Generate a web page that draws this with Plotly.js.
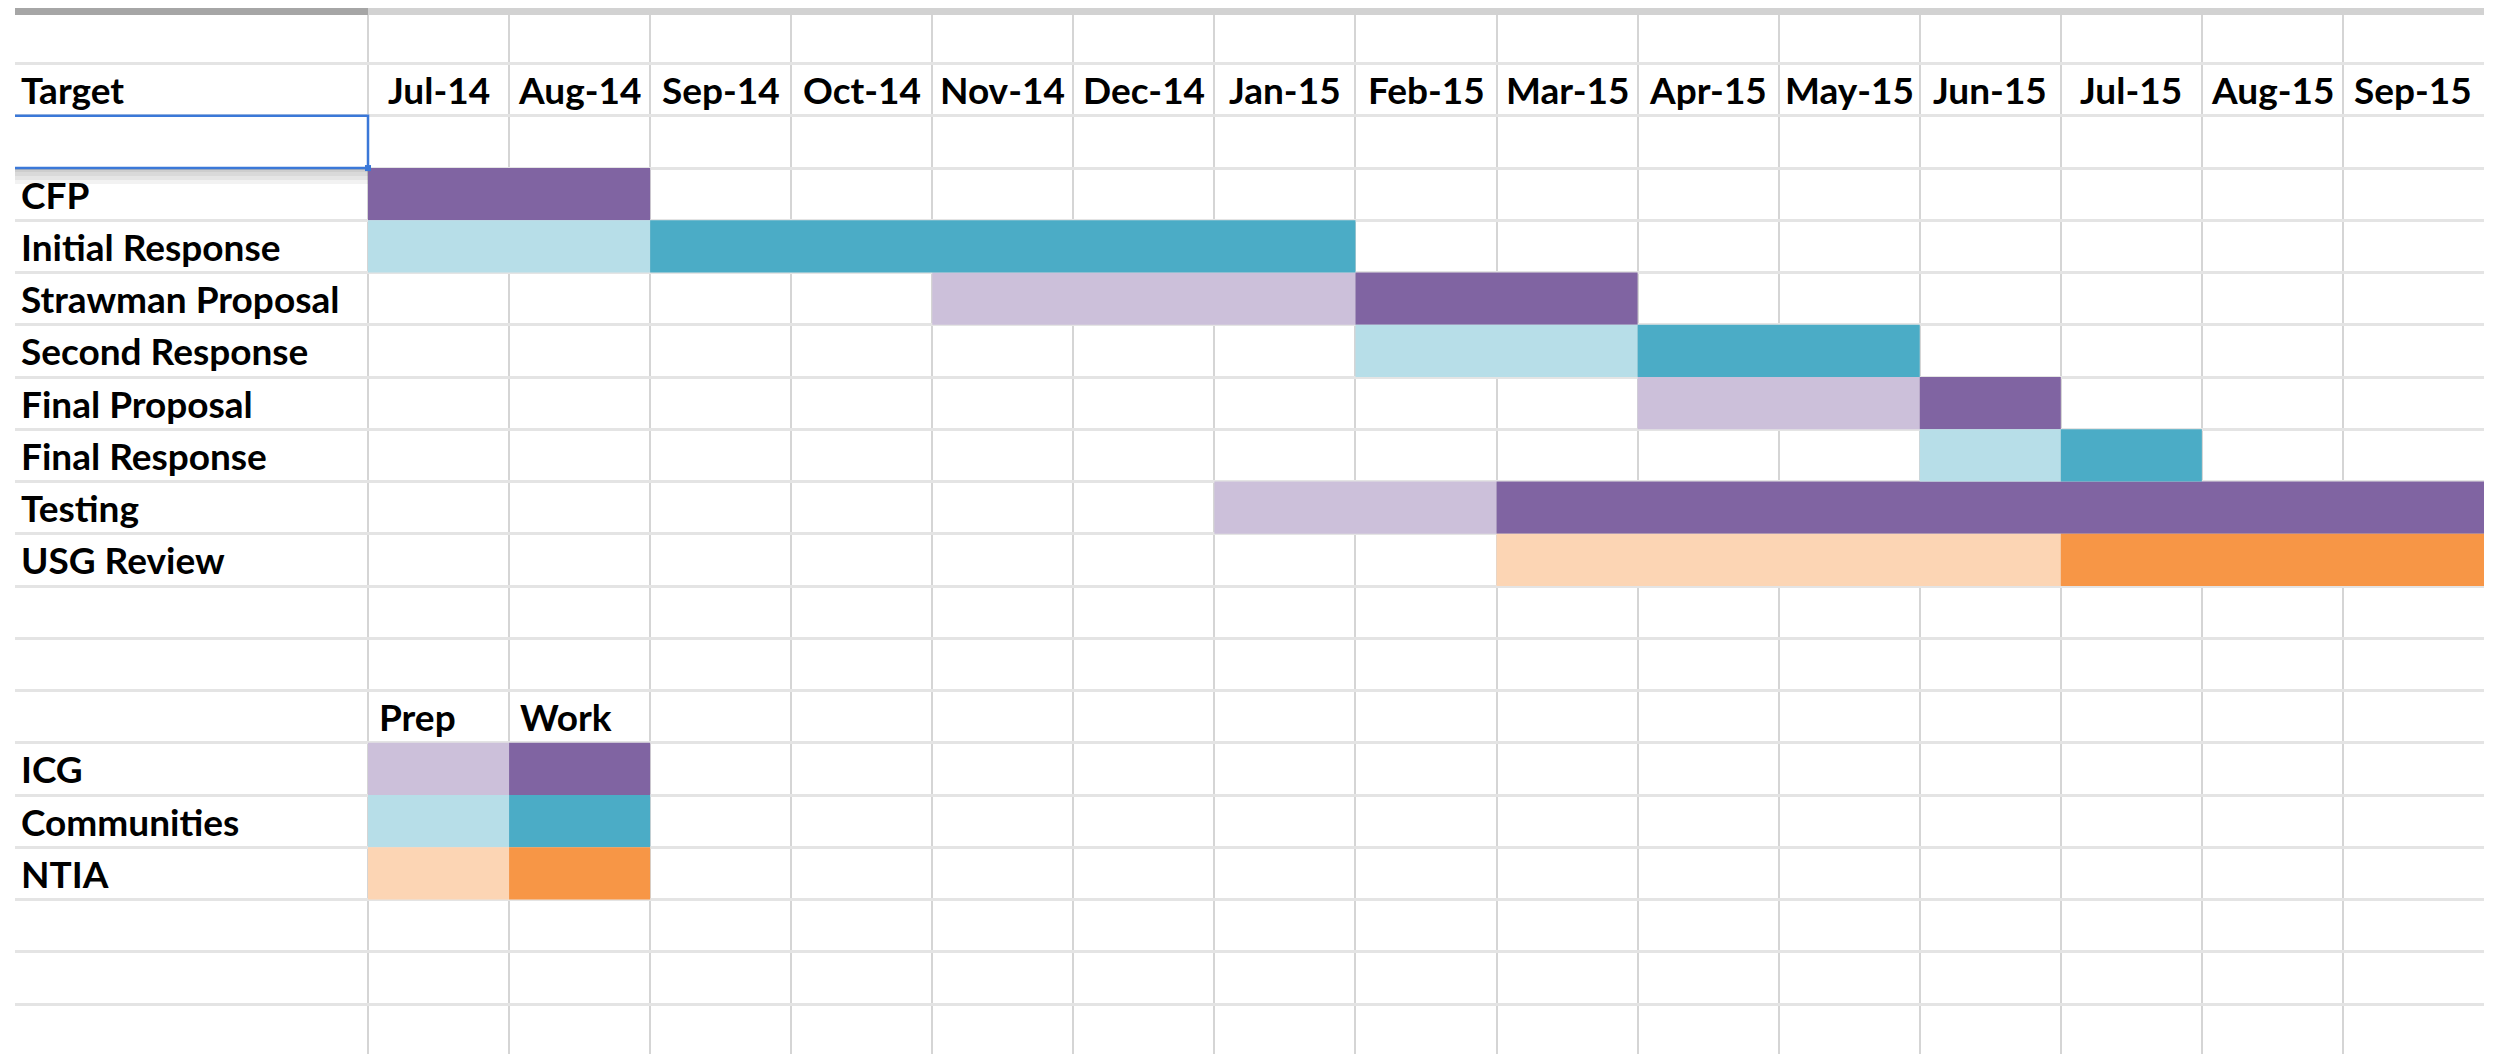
<!DOCTYPE html>
<html>
<head>
<meta charset="utf-8">
<script src="https://cdn.plot.ly/plotly-3.0.1.min.js"></script>
<style>html,body{margin:0;padding:0;background:#fff;}#chart{width:2495px;height:1054px;}</style>
</head>
<body>
<div id="chart"></div>
<script>
// ---- data ----
const months = ['Jul-14','Aug-14','Sep-14','Oct-14','Nov-14','Dec-14','Jan-15','Feb-15','Mar-15','Apr-15','May-15','Jun-15','Jul-15','Aug-15','Sep-15'];
const tasks = ['CFP','Initial Response','Strawman Proposal','Second Response','Final Proposal','Final Response','Testing','USG Review'];
const taskOwner = ['ICG','Communities','ICG','Communities','ICG','Communities','ICG','NTIA'];
const prepStart = [null,'Jul-14','Nov-14','Feb-15','Apr-15','Jun-15','Jan-15','Mar-15'];
const prepEnd   = [null,'Aug-14','Jan-15','Mar-15','May-15','Jun-15','Feb-15','Jun-15'];
const workStart = ['Jul-14','Sep-14','Feb-15','Apr-15','Jun-15','Jul-15','Mar-15','Jul-15'];
const workEnd   = ['Aug-14','Jan-15','Mar-15','May-15','Jun-15','Jul-15','Sep-15','Sep-15'];
const owners = ['ICG','Communities','NTIA'];
const phases = ['Prep','Work'];
const headerLabel = 'Target';

// ---- styles / layout constants ----
const colors = {
  ICG: {Prep:'#CCC0DA', Work:'#8064A2'},
  Communities: {Prep:'#B7DEE8', Work:'#4BACC6'},
  NTIA: {Prep:'#FCD5B4', Work:'#F79646'}
};
const W = 2495, H = 1054;
const colLeft = 368, colRight = 2484, labelLeft = 15;
const colW = (colRight - colLeft) / months.length;
const rowTop0 = 11.3, rowH = 52.25, plotTop = 8;
const headerRow = 1, selRow = 2, taskRow0 = 3, legendHeaderRow = 13, legendRow0 = 14;
const nRowsLines = 19;
const FONT = {family:'Lato, "Open Sans", sans-serif', size:37, color:'#000', weight:700};

const xMin = -(colLeft - labelLeft) / colW;
const yTopVal = (plotTop - rowTop0) / rowH;
const yBotVal = (H - rowTop0) / rowH;
const mi = m => months.indexOf(m);

// ---- traces ----
const traces = [];
owners.forEach((own, oi) => {
  phases.forEach((ph, pi) => {
    const ys = [], bases = [], lens = [];
    tasks.forEach((t, i) => {
      if (taskOwner[i] !== own) return;
      const s = ph === 'Prep' ? prepStart[i] : workStart[i];
      const e = ph === 'Prep' ? prepEnd[i] : workEnd[i];
      if (!s) return;
      ys.push(taskRow0 + i + 0.5);
      bases.push(mi(s));
      lens.push(mi(e) - mi(s) + 1);
    });
    // key swatch
    ys.push(legendRow0 + oi + 0.5);
    bases.push(pi);
    lens.push(1);
    traces.push({
      type:'bar', orientation:'h', name: own + ' ' + ph,
      y: ys, x: lens, base: bases, width: 1,
      marker:{color: colors[own][ph], line:{width:0}},
      hoverinfo:'skip', showlegend:false
    });
  });
});

// ---- annotations ----
const ann = [];
const labX = (labelLeft + 4) / W;
ann.push({xref:'paper', yref:'y', x:labX, y:headerRow + 0.5, text:headerLabel, showarrow:false, xanchor:'left', yanchor:'middle', font:FONT});
months.forEach((m, i) => ann.push({xref:'x', yref:'y', x:i + 0.5, y:headerRow + 0.5, text:m, showarrow:false, xanchor:'center', yanchor:'middle', font:FONT}));
tasks.forEach((t, i) => ann.push({xref:'paper', yref:'y', x:labX, y:taskRow0 + i + 0.5, text:t, showarrow:false, xanchor:'left', yanchor:'middle', font:FONT}));
phases.forEach((p, i) => ann.push({xref:'x', yref:'y', x:i + 9 / colW, y:legendHeaderRow + 0.5, text:p, showarrow:false, xanchor:'left', yanchor:'middle', font:FONT}));
owners.forEach((o, i) => ann.push({xref:'paper', yref:'y', x:labX, y:legendRow0 + i + 0.5, text:o, showarrow:false, xanchor:'left', yanchor:'middle', font:FONT}));

// ---- shapes ----
const px2y = p => 1 / rowH * p;
const shapes = [];
// frozen pane band at top
shapes.push({type:'rect', xref:'x', yref:'y', x0:xMin, x1:0, y0:yTopVal, y1:yTopVal + px2y(7), fillcolor:'#a6a6a6', line:{width:0}, layer:'above'});
shapes.push({type:'rect', xref:'x', yref:'y', x0:0, x1:months.length, y0:yTopVal, y1:yTopVal + px2y(7), fillcolor:'#d2d2d2', line:{width:0}, layer:'above'});
// selection shadow
[16, 12, 8, 4].forEach(h => shapes.push({type:'rect', xref:'x', yref:'y', x0:xMin, x1:0, y0:selRow + 1, y1:selRow + 1 + px2y(h), fillcolor:'rgba(0,0,0,0.05)', line:{width:0}, layer:'above'}));
// selection box
shapes.push({type:'path', xref:'x', yref:'y', path:`M ${xMin} ${selRow} L 0 ${selRow} L 0 ${selRow + 1} L ${xMin} ${selRow + 1}`, line:{color:'#3B78D8', width:2.5}, layer:'above'});
shapes.push({type:'rect', xref:'x', yref:'y', x0:-3 / colW, x1:3 / colW, y0:selRow + 1 - px2y(3), y1:selRow + 1 + px2y(3), fillcolor:'#3B78D8', line:{width:0}, layer:'above'});

const layout = {
  width:W, height:H, margin:{l:0, r:0, t:0, b:0},
  paper_bgcolor:'#fff', plot_bgcolor:'#fff',
  barmode:'overlay', showlegend:false,
  xaxis:{domain:[labelLeft / W, colRight / W], range:[xMin, months.length], tickmode:'array',
         tickvals:months.map((m, i) => i).concat([months.length]), showticklabels:false, ticks:'',
         showgrid:true, gridcolor:'#d5d5d5', gridwidth:2, zeroline:false, showline:false, fixedrange:true},
  yaxis:{domain:[0, 1 - plotTop / H], range:[yBotVal, yTopVal], tickmode:'array',
         tickvals:Array.from({length:nRowsLines}, (_, k) => k + 1), showticklabels:false, ticks:'',
         showgrid:true, gridcolor:'#e4e4e4', gridwidth:3, zeroline:false, showline:false, fixedrange:true},
  annotations:ann, shapes:shapes
};

Plotly.newPlot('chart', traces, layout, {displayModeBar:false, staticPlot:true});
</script>
</body>
</html>
